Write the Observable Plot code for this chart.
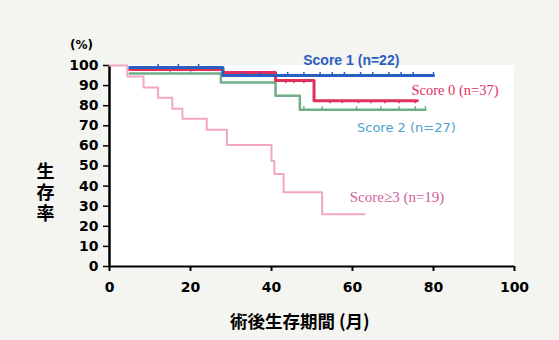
<!DOCTYPE html>
<html>
<head>
<meta charset="utf-8">
<script src="https://cdn.jsdelivr.net/npm/d3@7"></script>
<script src="https://cdn.jsdelivr.net/npm/@observablehq/plot@0.6"></script>
<style>
  html, body { margin: 0; padding: 0; background: #f4f4f0; }
  #chart { width: 559px; height: 340px; }
  svg { display: block; }
</style>
</head>
<body>
<div id="chart"></div>
<script>
// ---- data ----
const xTicks = [0, 20, 40, 60, 80, 100];
const yTicks = [0, 10, 20, 30, 40, 50, 60, 70, 80, 90, 100];

const score1Months = [5, 28, 80];
const score1Surv   = [99, 95, 95];
const score1Censor = [12, 17, 22, 33, 37, 44, 48, 52, 55, 58, 62, 65, 69, 72, 75, 80];

const score0Months = [5, 28, 41, 50.5, 76];
const score0Surv   = [98, 96.5, 92.5, 82.5, 82.5];
const score0Censor = [31, 34, 37, 43.5, 45.5, 48, 54.5, 57.5, 61.5, 64.5, 68, 71.5, 75.5];

const score2Months = [5, 27.5, 41, 47, 78];
const score2Surv   = [96, 91.5, 85, 78, 78];
const score2Censor = [15, 20, 48, 52.5, 61, 67, 71.5, 75.5, 78];

const score3Months = [0, 4.4, 8.4, 12, 15.5, 18, 24, 29, 40, 40.7, 43, 52.5, 63];
const score3Surv   = [100, 94.5, 89, 84, 78.5, 73.5, 68, 60.5, 52.5, 46, 37, 26, 26];

const seriesNames = ["Score 1 (n=22)", "Score 0 (n=37)", "Score 2 (n=27)", "Score≥3 (n=19)"];
const yTitle = "生存率";
const xTitle = "術後生存期間 (月)";
const unitTitle = "(%)";

// ---- build tables ----
const toRows = (ms, ss) => ms.map((m, i) => ({month: m, surv: ss[i]}));
const survAt = (ms, ss, t) => { let v = ss[0]; for (let i = 0; i < ms.length; i++) if (ms[i] <= t) v = ss[i]; return v; };
const censorRows = (cs, ms, ss) => cs.map(t => ({month: t, surv: survAt(ms, ss, t)}));

const s1 = toRows(score1Months, score1Surv);
const s0 = toRows(score0Months, score0Surv);
const s2 = toRows(score2Months, score2Surv);
const s3 = toRows(score3Months, score3Surv);
const c1 = censorRows(score1Censor, score1Months, score1Surv);
const c0 = censorRows(score0Censor, score0Months, score0Surv);
const c2 = censorRows(score2Censor, score2Months, score2Surv);

const cBlue = "#2a5fc2", cRed = "#e0305e", cGreen = "#6fae86", cPink = "#f2a6c6";
const tickFont = "'DejaVu Sans', sans-serif";
const cjkFont = "'Noto Sans CJK JP', sans-serif";

const chart = Plot.plot({
  width: 559,
  height: 340,
  marginLeft: 109,
  marginRight: 45,
  marginTop: 65,
  marginBottom: 74,
  style: {background: "transparent", fontFamily: tickFont, overflow: "visible"},
  x: {domain: [0, 100], label: null},
  y: {domain: [0, 100], label: null},
  marks: [
    Plot.rect([0], {x1: 0, x2: 100, y1: 0, y2: 100, fill: "white"}),
    Plot.axisX({ticks: xTicks, tickSize: 5, tickPadding: 11, fontSize: 14, fontWeight: "bold", stroke: "black", strokeWidth: 2, fill: "black", label: null}),
    Plot.axisY({ticks: yTicks, tickSize: 6, tickPadding: 5, fontSize: 14, fontWeight: "bold", stroke: "black", strokeWidth: 1.5, fill: "black", label: null}),
    Plot.ruleY([0], {stroke: "black", strokeWidth: 2}),
    Plot.ruleX([0], {stroke: "black", strokeWidth: 2.5}),
    // curves
    Plot.line(s3, {x: "month", y: "surv", curve: "step-after", stroke: cPink, strokeWidth: 2}),
    Plot.line(s2, {x: "month", y: "surv", curve: "step-after", stroke: cGreen, strokeWidth: 2.5}),
    Plot.ruleX(c2, {x: "month", y1: "surv", y2: d => d.surv + 1.5, stroke: cGreen, strokeWidth: 1.5}),
    Plot.line(s0, {x: "month", y: "surv", curve: "step-after", stroke: cRed, strokeWidth: 3}),
    Plot.ruleX(c0, {x: "month", y1: "surv", y2: d => d.surv - 1.5, stroke: cRed, strokeWidth: 1.5}),
    Plot.line(s1, {x: "month", y: "surv", curve: "step-after", stroke: cBlue, strokeWidth: 3}),
    Plot.ruleX(c1, {x: "month", y1: "surv", y2: d => d.surv + 1.5, stroke: cBlue, strokeWidth: 1.5}),
    // series labels
    Plot.text([seriesNames[0]], {x: 59.7, y: 102.5, text: d => d, fill: cBlue, fontSize: 14, fontWeight: "bold", fontFamily: "'Liberation Sans', sans-serif"}),
    Plot.text([seriesNames[1]], {x: 85.3, y: 87.5, text: d => d, fill: cRed, fontSize: 14.5, fontFamily: "'Liberation Serif', serif", letterSpacing: "2.2px"}),
    Plot.text([seriesNames[2]], {x: 73.3, y: 69, text: d => d, fill: "#4ea3d2", fontSize: 13, fontFamily: "'DejaVu Sans', sans-serif"}),
    Plot.text([seriesNames[3]], {x: 71, y: 34.5, text: d => d, fill: "#d0609a", fontSize: 15, fontFamily: "'Liberation Serif', serif", letterSpacing: "3.5px"}),
    // axis titles
    Plot.text([unitTitle], {x: 0, y: 100, text: d => d, dx: -28, dy: -20, fontSize: 12, fontWeight: "bold", fill: "black"}),
    Plot.text([yTitle], {x: 0, y: 39, text: d => d, dx: -64, fontSize: 18, fontWeight: "bold", fontFamily: cjkFont, fill: "black"}),
    Plot.text([xTitle], {x: 47, y: 0, text: d => d, dy: 56, fontSize: 17.5, fontWeight: "bold", fontFamily: cjkFont, fill: "black"})
  ]
});

// write the y title vertically (top to bottom), as in the reference
d3.select(chart).selectAll("text")
  .filter(function () { return this.textContent === yTitle; })
  .attr("dy", null)
  .style("writing-mode", "vertical-rl")
  .style("text-orientation", "upright")
  .style("letter-spacing", "3px");

document.getElementById("chart").appendChild(chart);
</script>
</body>
</html>
